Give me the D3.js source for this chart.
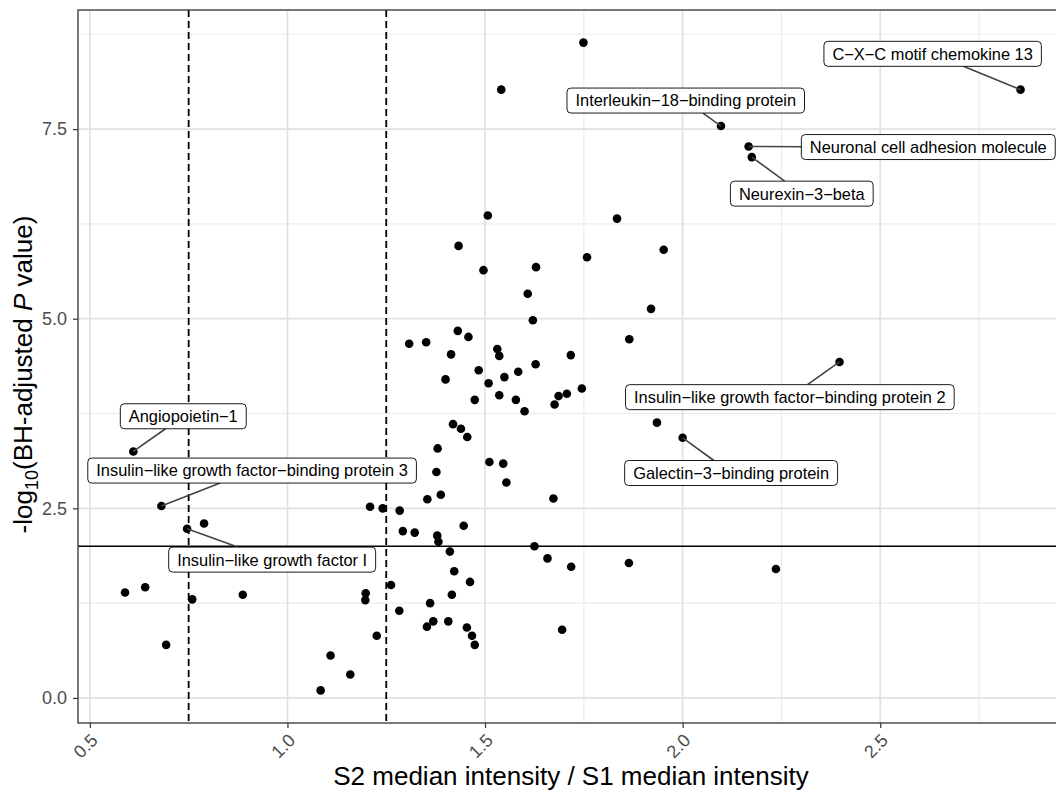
<!DOCTYPE html>
<html>
<head>
<meta charset="utf-8">
<script src="https://cdn.jsdelivr.net/npm/d3@7"></script>
<style>
  body { margin: 0; background: #fff; }
  text { font-family: "Liberation Sans", Arial, sans-serif; }
</style>
</head>
<body>
<div id="chart"></div>
<script>
// Datos: ratio S2/S1 y -log10(p ajustado)
const ratio = [
  1.749, 1.541, 2.855, 2.097, 2.167, 2.175, 1.507, 1.834, 1.433, 1.952,
  1.758, 1.629, 1.496, 1.608, 1.920, 1.621, 1.431, 1.458, 1.865, 1.308,
  1.351, 1.531, 1.414, 1.536, 1.717, 2.397, 1.628, 1.484, 1.584, 1.549,
  1.400, 1.509, 1.745, 1.707, 1.686, 1.536, 1.474, 1.578, 1.676, 1.600,
  1.935, 1.419, 1.439, 1.455, 2.000, 1.380, 0.610, 1.511, 1.546, 1.377,
  1.554, 1.388, 1.673, 1.354, 0.681, 1.209, 1.241, 1.284, 0.789, 1.446,
  0.746, 1.292, 1.322, 1.379, 1.382, 1.625, 1.411, 1.658, 1.864, 1.718,
  2.236, 1.422, 1.462, 1.262, 0.640, 0.589, 1.198, 0.887, 1.416, 0.759,
  1.197, 1.361, 1.283, 1.369, 1.407, 1.353, 1.454, 1.695, 1.467, 1.226,
  1.474, 0.693, 1.109, 1.159, 1.084
];
const negLogP = [
  8.64, 8.02, 8.02, 7.54, 7.27, 7.13, 6.36, 6.32, 5.96, 5.91,
  5.81, 5.68, 5.64, 5.33, 5.13, 4.98, 4.84, 4.76, 4.73, 4.67,
  4.69, 4.60, 4.53, 4.51, 4.52, 4.43, 4.40, 4.32, 4.30, 4.23,
  4.20, 4.15, 4.08, 4.01, 3.98, 3.99, 3.93, 3.93, 3.87, 3.78,
  3.63, 3.61, 3.55, 3.44, 3.43, 3.29, 3.25, 3.11, 3.09, 2.98,
  2.84, 2.68, 2.63, 2.62, 2.53, 2.52, 2.50, 2.47, 2.30, 2.27,
  2.23, 2.20, 2.18, 2.14, 2.06, 2.00, 1.93, 1.84, 1.78, 1.73,
  1.70, 1.67, 1.53, 1.49, 1.46, 1.39, 1.38, 1.36, 1.36, 1.30,
  1.29, 1.25, 1.15, 1.01, 1.01, 0.94, 0.93, 0.90, 0.82, 0.82,
  0.70, 0.70, 0.56, 0.31, 0.10
];

// Proteínas etiquetadas (índice del punto en los arrays)
const labelNames = [
  "C\u2212X\u2212C motif chemokine 13",
  "Interleukin\u221218\u2212binding protein",
  "Neuronal cell adhesion molecule",
  "Neurexin\u22123\u2212beta",
  "Insulin\u2212like growth factor\u2212binding protein 2",
  "Galectin\u22123\u2212binding protein",
  "Angiopoietin\u22121",
  "Insulin\u2212like growth factor\u2212binding protein 3",
  "Insulin\u2212like growth factor I"
];
const labelIndex = [2, 3, 4, 5, 25, 44, 46, 54, 60];

// Umbrales
const foldCuts = [0.75, 1.25];
const pCut = 2;

// Ticks
const xTicks = [0.5, 1.0, 1.5, 2.0, 2.5];
const xTickLabels = ["0.5", "1.0", "1.5", "2.0", "2.5"];
const xMinor = [0.75, 1.25, 1.75, 2.25, 2.75];
const yTicks = [0, 2.5, 5, 7.5];
const yTickLabels = ["0.0", "2.5", "5.0", "7.5"];
const yMinor = [1.25, 3.75, 6.25, 8.75];

// Colocación de las etiquetas (desplazamiento de la caja en px respecto al punto)
const labelOffsets = [
  [-196.6, -48.3], [-154, -38], [52.7, -12], [-21.4, 24], [-214, 22.7],
  [-58, 22.7], [-13, -47.7], [-73.6, -48], [-18.4, 18.3]
];

const width = 1056;
const height = 793;
const panel = { left: 78, right: 1064, top: 10, bottom: 723 };

const svg = d3.select("div#chart").append("svg")
  .attr("width", width)
  .attr("height", height);

svg.append("rect").attr("width", width).attr("height", height).attr("fill", "#fff");

const x = d3.scaleLinear().domain([0.47, 2.965]).range([panel.left, panel.right]);
const y = d3.scaleLinear().domain([-0.33, 9.07]).range([panel.bottom, panel.top]);

const gridGroup = svg.append("g");
// Rejilla menor
gridGroup.selectAll("line.xminor").data(xMinor).join("line")
  .attr("x1", d => x(d)).attr("x2", d => x(d))
  .attr("y1", panel.top).attr("y2", panel.bottom)
  .attr("stroke", "#ebebeb").attr("stroke-width", 1.1);
gridGroup.selectAll("line.yminor").data(yMinor).join("line")
  .attr("y1", d => y(d)).attr("y2", d => y(d))
  .attr("x1", panel.left).attr("x2", panel.right)
  .attr("stroke", "#ebebeb").attr("stroke-width", 1.1);
// Rejilla mayor
gridGroup.selectAll("line.xmajor").data(xTicks).join("line")
  .attr("x1", d => x(d)).attr("x2", d => x(d))
  .attr("y1", panel.top).attr("y2", panel.bottom)
  .attr("stroke", "#e1e1e1").attr("stroke-width", 1.7);
gridGroup.selectAll("line.ymajor").data(yTicks).join("line")
  .attr("y1", d => y(d)).attr("y2", d => y(d))
  .attr("x1", panel.left).attr("x2", panel.right)
  .attr("stroke", "#e1e1e1").attr("stroke-width", 1.7);

// Líneas de umbral
svg.selectAll("line.cut").data(foldCuts).join("line")
  .attr("x1", d => x(d)).attr("x2", d => x(d))
  .attr("y1", panel.top).attr("y2", panel.bottom)
  .attr("stroke", "#000").attr("stroke-width", 1.8)
  .attr("stroke-dasharray", "7,4");
svg.append("line")
  .attr("x1", panel.left).attr("x2", panel.right)
  .attr("y1", y(pCut)).attr("y2", y(pCut))
  .attr("stroke", "#000").attr("stroke-width", 1.6);

// Puntos
const data = ratio.map((r, i) => ({ r, p: negLogP[i] }));
svg.append("g").selectAll("circle").data(data).join("circle")
  .attr("cx", d => x(d.r))
  .attr("cy", d => y(d.p))
  .attr("r", 4.3)
  .attr("fill", "#000");

// Etiquetas con caja (estilo ggrepel)
const labelGroup = svg.append("g");
const pad = 8.5;
const boxH = 25;
labelNames.forEach((name, k) => {
  const d = data[labelIndex[k]];
  const px = x(d.r), py = y(d.p);
  const bx = px + labelOffsets[k][0];
  const by = py + labelOffsets[k][1];
  const g = labelGroup.append("g");
  const seg = g.append("line");
  const box = g.append("rect");
  const t = g.append("text")
    .attr("x", bx + pad)
    .attr("y", by + boxH / 2)
    .attr("dy", "0.36em")
    .attr("font-size", 16.4)
    .attr("fill", "#000")
    .text(name);
  const w = t.node().getComputedTextLength() + 2 * pad;
  box.attr("x", bx).attr("y", by).attr("width", w).attr("height", boxH)
    .attr("rx", 4).attr("fill", "#fff").attr("stroke", "#000").attr("stroke-width", 0.9);
  // segmento desde el borde de la caja hacia el punto
  const cx = bx + w / 2, cy = by + boxH / 2;
  const dx = px - cx, dy = py - cy;
  const tx = dx !== 0 ? (w / 2) / Math.abs(dx) : Infinity;
  const ty = dy !== 0 ? (boxH / 2) / Math.abs(dy) : Infinity;
  const tt = Math.min(tx, ty);
  if (tt < 1) {
    seg.attr("x1", cx + dx * tt).attr("y1", cy + dy * tt)
      .attr("x2", px).attr("y2", py)
      .attr("stroke", "#444").attr("stroke-width", 1.6);
  }
});

// Borde del panel
svg.append("rect")
  .attr("x", panel.left).attr("y", panel.top)
  .attr("width", panel.right - panel.left).attr("height", panel.bottom - panel.top)
  .attr("fill", "none").attr("stroke", "#333").attr("stroke-width", 1.3);

// Ejes
const xAxis = d3.axisBottom(x).tickValues(xTicks)
  .tickFormat((d, i) => xTickLabels[i]).tickSize(5);
const xAxisGroup = svg.append("g")
  .attr("transform", `translate(0, ${panel.bottom})`)
  .call(xAxis);
xAxisGroup.select(".domain").remove();
xAxisGroup.selectAll(".tick line").attr("stroke", "#333").attr("stroke-width", 1.2);
xAxisGroup.selectAll(".tick text")
  .attr("font-size", 18).attr("fill", "#4d4d4d")
  .attr("text-anchor", "end")
  .attr("x", 0).attr("y", 0)
  .attr("dy", "0.35em")
  .attr("transform", "translate(4,14) rotate(-45)");

const yAxis = d3.axisLeft(y).tickValues(yTicks)
  .tickFormat((d, i) => yTickLabels[i]).tickSize(5).tickPadding(6);
const yAxisGroup = svg.append("g")
  .attr("transform", `translate(${panel.left}, 0)`)
  .call(yAxis);
yAxisGroup.select(".domain").remove();
yAxisGroup.selectAll(".tick line").attr("stroke", "#333").attr("stroke-width", 1.2);
yAxisGroup.selectAll(".tick text").attr("font-size", 18).attr("fill", "#4d4d4d");

// Títulos de los ejes
svg.append("text")
  .attr("x", (panel.left + panel.right) / 2)
  .attr("y", 785)
  .attr("text-anchor", "middle")
  .attr("font-size", 26)
  .text("S2 median intensity / S1 median intensity");

const yTitle = svg.append("text")
  .attr("transform", `translate(32, ${(panel.top + panel.bottom) / 2 + 8}) rotate(-90)`)
  .attr("text-anchor", "middle")
  .attr("font-size", 26);
yTitle.append("tspan").text("-log");
yTitle.append("tspan").attr("font-size", 18).attr("dy", 6).text("10");
yTitle.append("tspan").attr("dy", -6).text("(BH-adjusted ");
yTitle.append("tspan").attr("font-style", "italic").text("P");
yTitle.append("tspan").text(" value)");
</script>
</body>
</html>
